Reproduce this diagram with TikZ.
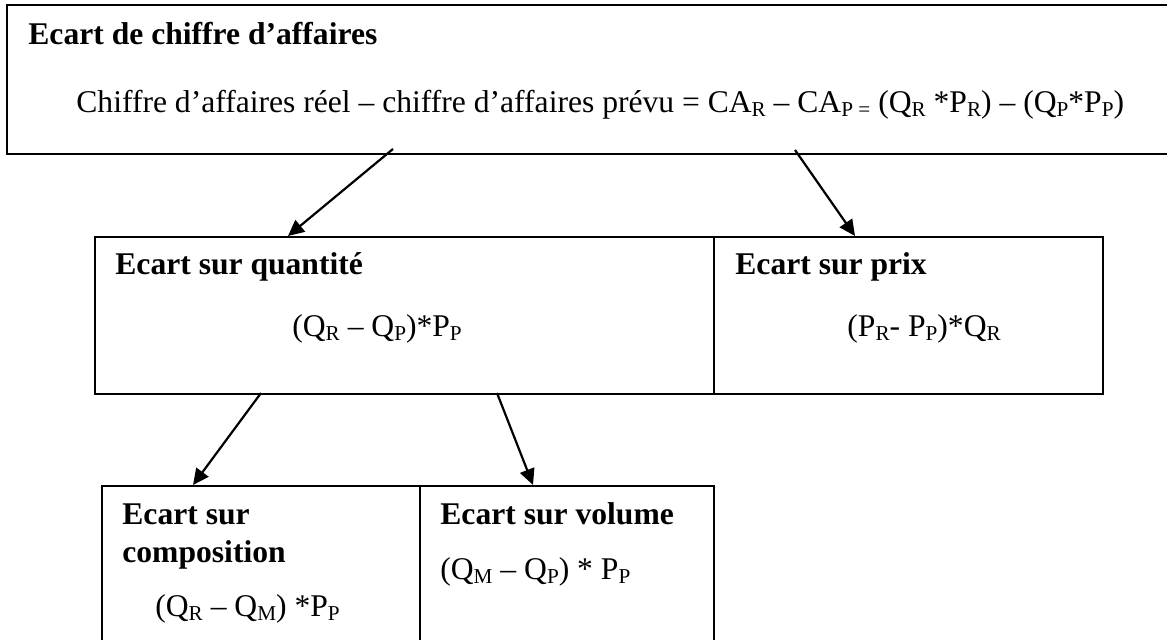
\documentclass[tikz,border=0pt]{standalone}
\usepackage{fontspec}
\setmainfont{Liberation Serif}
\usetikzlibrary{arrows.meta}
\newcommand\subx[1]{\raisebox{-1.6pt}{\fontsize{10.6}{12}\selectfont #1}}
\begin{document}
\begin{tikzpicture}[x=0.5pt,y=-0.5pt,
  box/.style={draw,line width=1pt,rectangle,inner sep=0pt,anchor=north west},
  txt/.style={anchor=base west,inner sep=0pt,font=\fontsize{15.8}{18}\selectfont},
  ttl/.style={anchor=base west,inner sep=0pt,font=\fontsize{15.8}{18}\selectfont\bfseries},
  arr/.style={line width=1.1pt,-{Triangle[length=8pt,width=7.5pt]}}]
\clip (0,0) rectangle (1167,640);
% boxes
\node[box,minimum width=592pt,minimum height=74.5pt] (top) at (6,4) {};
\node[box,minimum width=309.5pt,minimum height=78.5pt] (qty) at (94,236) {};
\node[box,minimum width=194.5pt,minimum height=78.5pt] (prix) at (713,236) {};
\node[box,minimum width=159pt,minimum height=90pt] (comp) at (101,485) {};
\node[box,minimum width=147pt,minimum height=90pt] (vol) at (419,485) {};
% texts
\node[ttl] (t1) at (28,45) {Ecart de chiffre d’affaires};
\node[txt] (t2) at (76,113) {Chiffre d’affaires réel – chiffre d’affaires prévu = CA\subx{R} – CA\subx{P =} (Q\subx{R} *P\subx{R}) – (Q\subx{P}*P\subx{P})};
\node[ttl] (t3) at (115,275) {Ecart sur quantité};
\node[txt] (t4) at (292,337) {(Q\subx{R} – Q\subx{P})*P\subx{P}};
\node[ttl] (t5) at (735,275) {Ecart sur prix};
\node[txt] (t6) at (847,337) {(P\subx{R}- P\subx{P})*Q\subx{R}};
\node[ttl] (t7) at (122,525) {Ecart sur};
\node[ttl] (t8) at (122,563) {composition};
\node[txt] (t9) at (155,617) {(Q\subx{R} – Q\subx{M}) *P\subx{P}};
\node[ttl] (t10) at (440,525) {Ecart sur volume};
\node[txt] (t11) at (440,580) {(Q\subx{M} – Q\subx{P}) * P\subx{P}};
% arrows
\coordinate (a1s) at (393,149);
\coordinate (a1e) at (288,236);
\coordinate (a2s) at (795,150);
\coordinate (a2e) at (855,236);
\coordinate (a3s) at (261,393);
\coordinate (a3e) at (193,485);
\coordinate (a4s) at (497,393);
\coordinate (a4e) at (533,485);
\draw[arr] (a1s) -- (a1e);
\draw[arr] (a2s) -- (a2e);
\draw[arr] (a3s) -- (a3e);
\draw[arr] (a4s) -- (a4e);
\end{tikzpicture}
\end{document}
